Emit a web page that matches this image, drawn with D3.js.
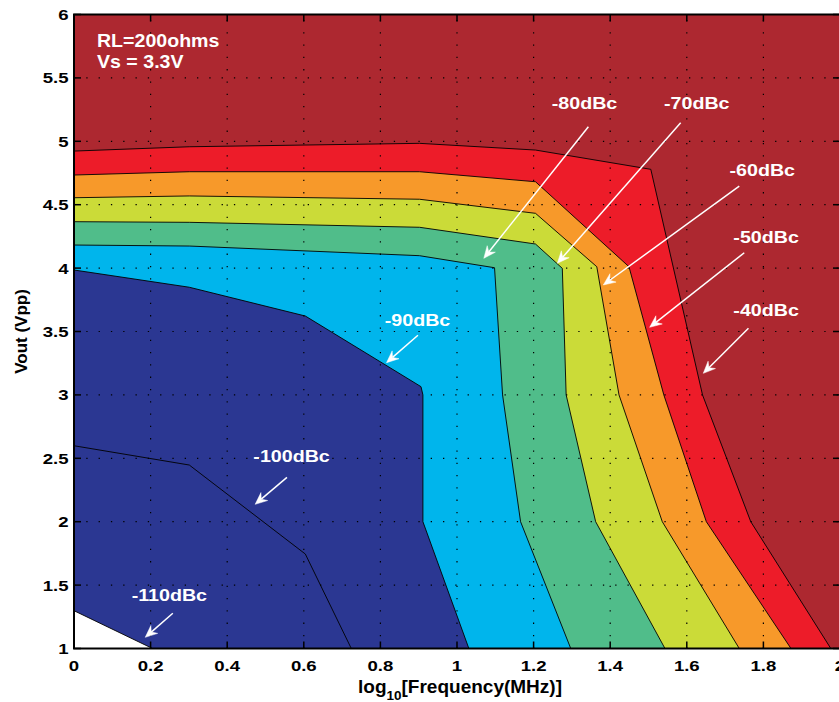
<!DOCTYPE html>
<html>
<head>
<meta charset="utf-8">
<script src="https://cdn.jsdelivr.net/npm/d3@7"></script>
<style>
  html, body { margin: 0; padding: 0; background: #ffffff; }
  svg { display: block; }
</style>
</head>
<body>
<svg id="chart" width="839" height="702"></svg>
<script>
// ---------------- data ----------------
const xTicks = [0, 0.2, 0.4, 0.6, 0.8, 1, 1.2, 1.4, 1.6, 1.8, 2];
const xTickLabels = ["0", "0.2", "0.4", "0.6", "0.8", "1", "1.2", "1.4", "1.6", "1.8", "2"];
const yTicks = [1, 1.5, 2, 2.5, 3, 3.5, 4, 4.5, 5, 5.5, 6];
const yTickLabels = ["1", "1.5", "2", "2.5", "3", "3.5", "4", "4.5", "5", "5.5", "6"];

// contour boundaries: [log10(f/MHz), Vout(Vpp)], each from left edge to bottom edge
const contour40 = [[0, 4.923], [0.301, 4.957], [0.902, 4.984], [1.205, 4.931], [1.506, 4.779], [1.641, 3.0], [1.767, 2.0], [1.976, 1.0]];
const contour50 = [[0, 4.734], [0.301, 4.760], [0.902, 4.760], [1.205, 4.681], [1.449, 4.011], [1.540, 3.0], [1.651, 2.0], [1.872, 1.0]];
const contour60 = [[0, 4.555], [0.301, 4.569], [0.902, 4.543], [1.205, 4.432], [1.365, 4.011], [1.423, 3.0], [1.536, 2.0], [1.737, 1.0]];
const contour70 = [[0, 4.366], [0.301, 4.361], [0.902, 4.322], [1.205, 4.190], [1.275, 3.998], [1.285, 3.0], [1.362, 2.0], [1.543, 1.0]];
const contour80 = [[0, 4.182], [0.301, 4.174], [0.902, 4.098], [1.098, 4.003], [1.119, 3.0], [1.166, 2.0], [1.297, 1.0]];
const contour90 = [[0, 3.985], [0.301, 3.849], [0.604, 3.622], [0.906, 3.065], [0.911, 3.0], [0.911, 2.0], [1.031, 1.0]];
const contour100 = [[0, 2.599], [0.301, 2.447], [0.604, 1.745], [0.724, 1.0]];
const contour110 = [[0, 1.298], [0.205, 1.0]];

const levelNames = ["-40dBc", "-50dBc", "-60dBc", "-70dBc", "-80dBc", "-90dBc", "-100dBc", "-110dBc"];
const aboveColor = "#AD2830";
const bandColors = ["#ED1C29", "#F7992A", "#CBDB38", "#50BD8A", "#00B5EC", "#2B3792", "#2B3792", "#FFFFFF"];

// annotation label anchors (centre x, baseline y) and arrow start / tip, in data units
const labelPos = [[1.807, 3.625], [1.807, 4.196], [1.797, 4.726], [1.626, 5.252], [1.333, 5.252], [0.897, 3.543], [0.568, 2.468], [0.249, 1.377]];
const arrowFrom = [[1.761, 3.525], [1.750, 4.121], [1.737, 4.647], [1.584, 5.147], [1.343, 5.115], [0.898, 3.470], [0.556, 2.350], [0.258, 1.278]];
const arrowTo = [[1.643, 3.170], [1.503, 3.533], [1.382, 3.867], [1.262, 4.038], [1.070, 4.077], [0.816, 3.254], [0.473, 2.137], [0.186, 1.088]];

const infoLines = ["RL=200ohms", "Vs = 3.3V"];
const infoPos = [[0.060, 5.741], [0.060, 5.580]];

// ---------------- drawing ----------------
const svg = d3.select("#chart");
const x = d3.scaleLinear().domain([0, 2]).range([74, 840]);
const y = d3.scaleLinear().domain([1, 6]).range([648.5, 14.5]);
const FONT = "'Liberation Sans', Arial, Helvetica, sans-serif";

svg.append("defs").append("clipPath").attr("id", "plotClip")
  .append("rect").attr("x", x(0)).attr("y", y(6)).attr("width", x(2) - x(0)).attr("height", y(1) - y(6));

const plot = svg.append("g").attr("clip-path", "url(#plotClip)");

plot.append("rect")
  .attr("x", x(0)).attr("y", y(6))
  .attr("width", x(2) - x(0)).attr("height", y(1) - y(6))
  .attr("fill", aboveColor);

const boundaries = [contour40, contour50, contour60, contour70, contour80, contour90, contour100, contour110];
const lineGen = d3.line().x(d => x(d[0])).y(d => y(d[1]));

boundaries.forEach((b, i) => {
  const poly = b.concat([[0, 1]]);
  plot.append("path")
    .attr("d", lineGen(poly) + "Z")
    .attr("fill", bandColors[i])
    .attr("stroke", "none");
});
boundaries.forEach(b => {
  plot.append("path")
    .attr("d", lineGen(b))
    .attr("fill", "none")
    .attr("stroke", "#000")
    .attr("stroke-width", 0.9)
    .attr("stroke-linejoin", "round");
});

// dotted grid
const grid = plot.append("g").attr("stroke", "#000").attr("stroke-width", 1.2)
  .attr("stroke-dasharray", "1.3,11").attr("fill", "none");
xTicks.slice(1, -1).forEach(t => {
  grid.append("line").attr("x1", x(t)).attr("x2", x(t)).attr("y1", y(1)).attr("y2", y(6));
});
yTicks.slice(1, -1).forEach(t => {
  grid.append("line").attr("x1", x(0)).attr("x2", x(2)).attr("y1", y(t)).attr("y2", y(t));
});

// helper: horizontally-stretched bold text
function addText(parent, str, px, py, size, sx, anchor, fill) {
  return parent.append("text")
    .attr("transform", `translate(${px},${py}) scale(${sx},1)`)
    .attr("text-anchor", anchor)
    .attr("font-family", FONT)
    .attr("font-weight", "bold")
    .attr("font-size", size)
    .attr("fill", fill)
    .text(str);
}

// annotations: arrows
const ann = svg.append("g");
arrowFrom.forEach((f, i) => {
  const x0 = x(f[0]), y0 = y(f[1]);
  const x1 = x(arrowTo[i][0]), y1 = y(arrowTo[i][1]);
  const ang = Math.atan2(y1 - y0, x1 - x0);
  const L = 12, w = 5.2, n = 8;
  const c = Math.cos(ang), s = Math.sin(ang);
  const pt = (a, b) => [x1 + a * c - b * s, y1 + a * s + b * c];
  const notch = pt(-n, 0);
  ann.append("line")
    .attr("x1", x0).attr("y1", y0).attr("x2", notch[0]).attr("y2", notch[1])
    .attr("stroke", "#fff").attr("stroke-width", 1.5);
  const head = [pt(0, 0), pt(-L, -w), notch, pt(-L, w)];
  ann.append("path")
    .attr("d", "M" + head.map(p => p.join(",")).join("L") + "Z")
    .attr("fill", "#fff").attr("stroke", "#fff").attr("stroke-width", 0.5)
    .attr("stroke-linejoin", "miter");
});
// annotation labels
labelPos.forEach((p, i) => {
  addText(ann, levelNames[i], x(p[0]), y(p[1]), 16.8, 1.17, "middle", "#fff");
});
infoLines.forEach((t, i) => {
  addText(ann, t, x(infoPos[i][0]), y(infoPos[i][1]), 17.5, 1.12, "start", "#fff");
});

// axes box and ticks (inward, on all sides)
const axes = svg.append("g").attr("stroke", "#000").attr("fill", "none");
axes.append("rect")
  .attr("x", x(0)).attr("y", y(6))
  .attr("width", x(2) - x(0)).attr("height", y(1) - y(6))
  .attr("stroke-width", 2);
const TL = 7;
xTicks.forEach(t => {
  axes.append("line").attr("x1", x(t)).attr("x2", x(t)).attr("y1", y(1)).attr("y2", y(1) - TL).attr("stroke-width", 1.5);
  axes.append("line").attr("x1", x(t)).attr("x2", x(t)).attr("y1", y(6)).attr("y2", y(6) + TL).attr("stroke-width", 1.5);
});
yTicks.forEach(t => {
  axes.append("line").attr("x1", x(0)).attr("x2", x(0) + TL).attr("y1", y(t)).attr("y2", y(t)).attr("stroke-width", 1.5);
  axes.append("line").attr("x1", x(2)).attr("x2", x(2) - TL).attr("y1", y(t)).attr("y2", y(t)).attr("stroke-width", 1.5);
});

// tick labels
const lab = svg.append("g");
xTicks.forEach((t, i) => {
  addText(lab, xTickLabels[i], x(t), 671, 15, 1.24, "middle", "#000");
});
yTicks.forEach((t, i) => {
  addText(lab, yTickLabels[i], 68.5, y(t) + 5.4, 15, 1.24, "end", "#000");
});

// axis titles
const xt = svg.append("text")
  .attr("x", 460).attr("y", 692.7)
  .attr("text-anchor", "middle")
  .attr("font-family", FONT).attr("font-weight", "bold").attr("font-size", 19)
  .attr("fill", "#000");
xt.append("tspan").text("log");
xt.append("tspan").attr("font-size", 13.5).attr("dy", 7.5).text("10");
xt.append("tspan").attr("dy", -7.5).text("[Frequency(MHz)]");

svg.append("text")
  .attr("transform", "translate(26.5,331.5) rotate(-90)")
  .attr("text-anchor", "middle")
  .attr("font-family", FONT).attr("font-weight", "bold").attr("font-size", 17)
  .attr("fill", "#000")
  .text("Vout (Vpp)");
</script>
</body>
</html>
